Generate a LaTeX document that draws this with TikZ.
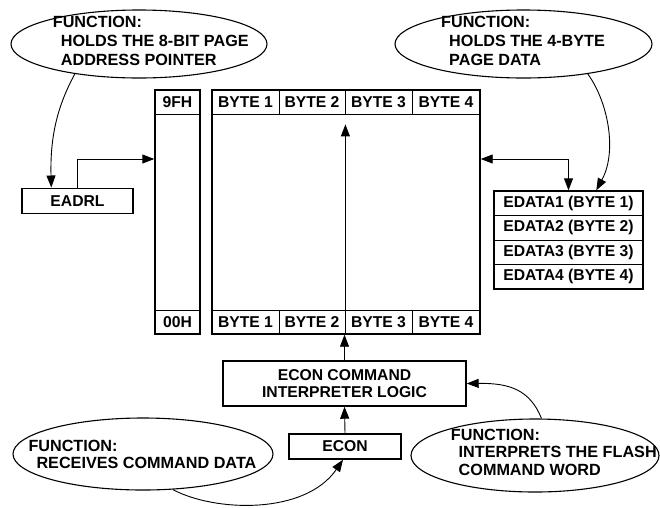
\documentclass[tikz,border=0pt]{standalone}
\usepackage{fontspec}
\setmainfont{Liberation Sans}
\usetikzlibrary{arrows.meta,shapes.geometric,calc}
\begin{document}
\begin{tikzpicture}[x=1pt,y=-1pt,
  outer/.style={draw,line width=1.4pt,inner sep=0pt},
  cell/.style={draw,line width=0.8pt,minimum height=24pt,inner sep=0pt,font=\bfseries\fontsize{15.7}{17}\selectfont},
  bubble/.style={draw,ellipse,line width=1.1pt,inner sep=0pt},
  btext/.style={inner sep=0pt,anchor=base west,font=\bfseries\fontsize{16.2}{18.5}\selectfont},
  lbl/.style={draw,line width=1.4pt,font=\bfseries\fontsize{15.7}{17}\selectfont,align=center,inner sep=0pt},
  conn/.style={line width=0.9pt,-{Triangle[length=12pt,width=9pt]}},
  dconn/.style={line width=0.9pt,{Triangle[length=12pt,width=9pt]}-{Triangle[length=12pt,width=9pt]}}
]
\useasboundingbox (0,0) rectangle (660,507);

% ellipses
\node[bubble,minimum width=256pt,minimum height=68pt] (e1) at (139,44) {};
\node[btext] (t1a) at (52.7,27) {FUNCTION:};
\node[btext] (t1b) at (60.7,46.5) {HOLDS THE 8-BIT PAGE};
\node[btext] (t1c) at (60.7,65) {ADDRESS POINTER};
\node[bubble,minimum width=257pt,minimum height=68pt] (e2) at (523.5,44) {};
\node[btext] (t2a) at (441,27) {FUNCTION:};
\node[btext] (t2b) at (449,46.5) {HOLDS THE 4-BYTE};
\node[btext] (t2c) at (449,65) {PAGE DATA};
\node[bubble,minimum width=260pt,minimum height=72pt] (e3) at (143,454) {};
\node[btext] (t3a) at (28.3,451) {FUNCTION:};
\node[btext] (t3b) at (36.3,468.3) {RECEIVES COMMAND DATA};
\node[bubble,minimum width=248pt,minimum height=73pt] (e4) at (535,455.5) {};
\node[btext] (t4a) at (450.7,440) {FUNCTION:};
\node[btext] (t4b) at (458.5,457) {INTERPRETS THE FLASH};
\node[btext] (t4c) at (458.5,475) {COMMAND WORD};

% address column
\node[cell,minimum width=45pt] (c9) at (177.5,102) {9FH};
\node[cell,minimum width=45pt] (c0) at (177.5,322) {00H};
\node[outer,minimum width=45pt,minimum height=244pt] (col) at (177.5,212) {};

% memory block
\node[cell,minimum width=67pt] (b1h) at (245.5,102) {BYTE 1};
\node[cell,minimum width=66pt] (b2h) at (312,102) {BYTE 2};
\node[cell,minimum width=67pt] (b3h) at (378.5,102) {BYTE 3};
\node[cell,minimum width=68pt] (b4h) at (446,102) {BYTE 4};
\node[cell,minimum width=67pt] (b1f) at (245.5,322) {BYTE 1};
\node[cell,minimum width=66pt] (b2f) at (312,322) {BYTE 2};
\node[cell,minimum width=67pt] (b3f) at (378.5,322) {BYTE 3};
\node[cell,minimum width=68pt] (b4f) at (446,322) {BYTE 4};
\node[outer,minimum width=268pt,minimum height=244pt] (mem) at (346,212) {};

% EDATA registers
\node[cell,minimum width=149pt,minimum height=24.5pt] (d1) at (568.5,203.25) {EDATA1 (BYTE 1)};
\node[cell,minimum width=149pt,minimum height=24.5pt] (d2) at (568.5,227.75) {EDATA2 (BYTE 2)};
\node[cell,minimum width=149pt,minimum height=24.5pt] (d3) at (568.5,252.25) {EDATA3 (BYTE 3)};
\node[cell,minimum width=149pt,minimum height=24.5pt] (d4) at (568.5,276.75) {EDATA4 (BYTE 4)};
\node[outer,minimum width=149pt,minimum height=98pt] (edata) at (568.5,240) {};

% other boxes
\node[lbl,minimum width=111pt,minimum height=25pt] (eadrl) at (77.5,200.7) {EADRL};
\node[lbl,minimum width=243pt,minimum height=45pt] (cmd) at (344.5,383.5) {ECON COMMAND\\INTERPRETER LOGIC};
\node[lbl,minimum width=112pt,minimum height=25pt] (econ) at (345,446.5) {ECON};

% connectors
\coordinate (lvl) at (0,159);
\coordinate (mtip) at ($(b2h.south east)+(0,10)$);
\draw[conn] (b2f.north east) -- (mtip);
\draw[conn] (eadrl.north) |- (lvl -| col.west);
\draw[dconn] (lvl -| mem.east) -| (edata.north);
\draw[conn] (cmd.north) -- (cmd.north |- mem.south);
\draw[conn] (econ.north) -- (cmd.south);
\draw[conn] (e1.205) .. controls (58,105) and (50,135) .. ($(eadrl.north west)+(30,0)$);
\draw[conn] (e2.335) .. controls (607,100) and (618,150) .. ($(edata.north west)+(103,0)$);
\draw[conn] (e3.310) .. controls (215,512) and (305,515) .. ($(econ.south)+(-2,0)$);
\draw[conn] (e4.80) .. controls (530,390) and (510,383) .. (cmd.east);
\end{tikzpicture}
\end{document}
